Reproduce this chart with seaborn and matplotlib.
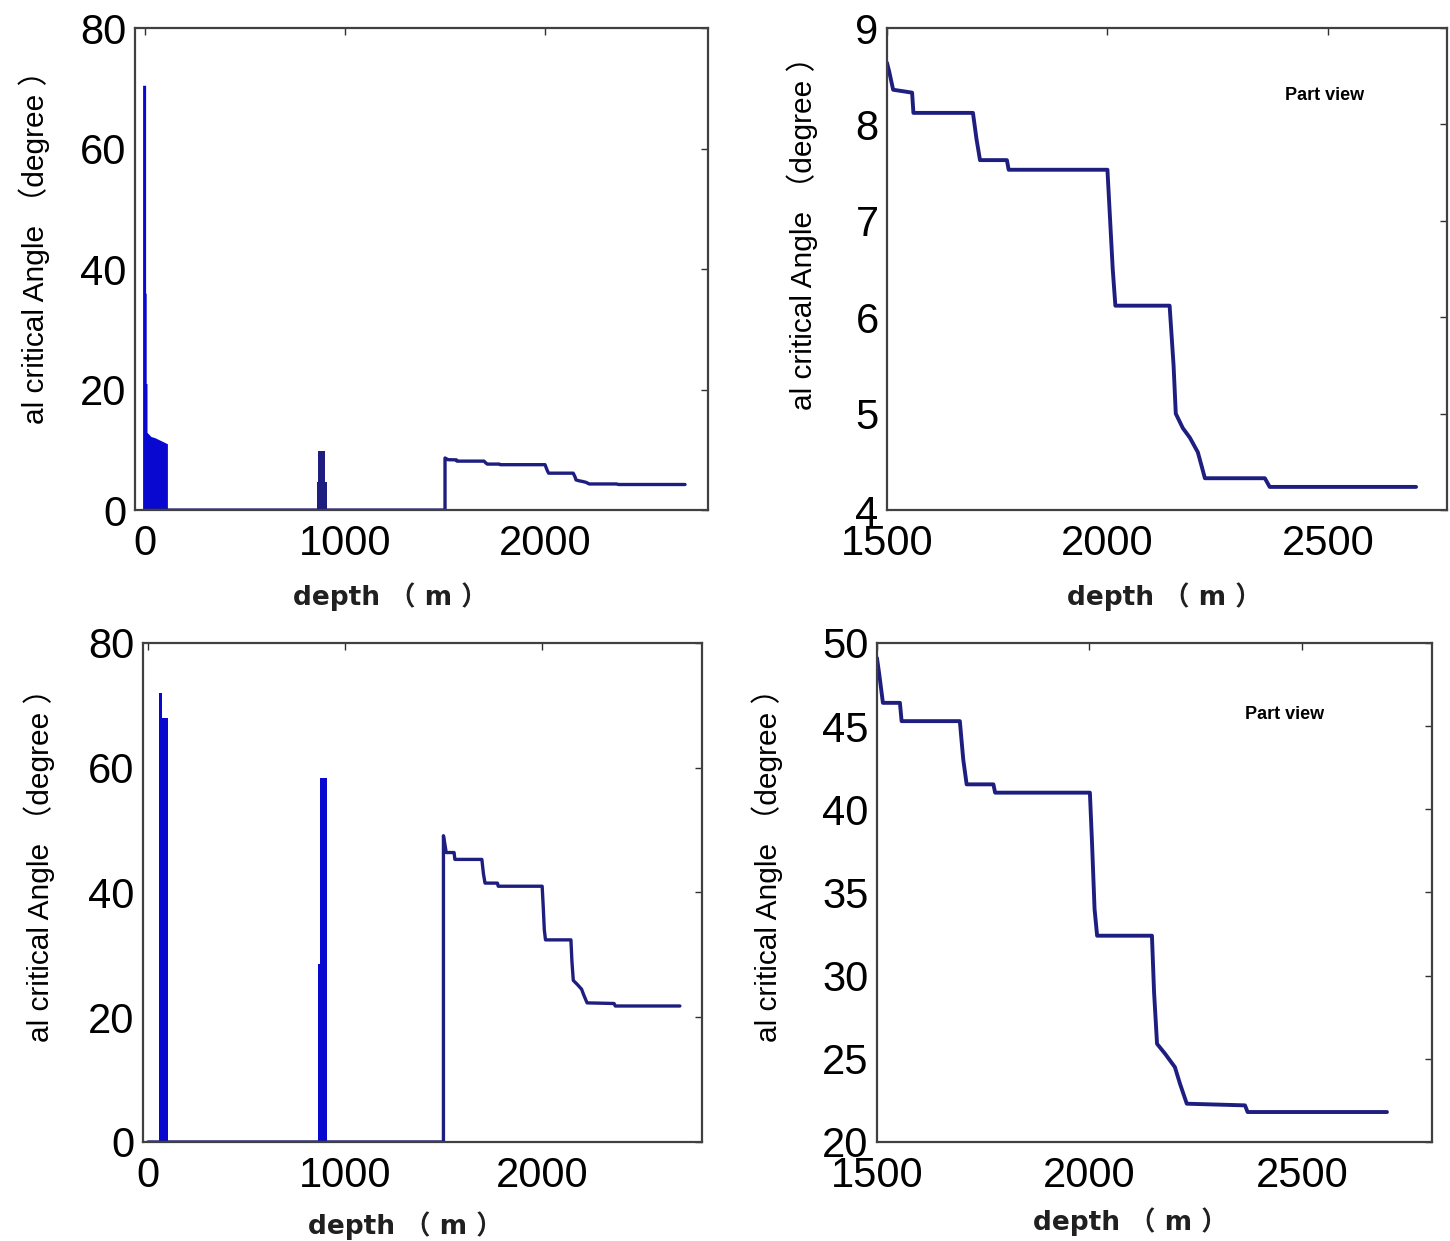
import matplotlib
matplotlib.use("Agg")
import matplotlib.pyplot as plt
import seaborn as sns

sns.set_style("white")
plt.rcParams['font.family'] = ['Liberation Sans', 'Noto Sans CJK SC', 'DejaVu Sans']

# stair part of the first angle curve (depth m, degree)
depth_a = [1500, 1505, 1514, 1557, 1560, 1695, 1703, 1711, 1772, 1776, 2000, 2005,
           2012, 2018, 2141, 2150, 2155, 2171, 2187, 2205, 2214, 2221, 2357, 2368, 2700]
angle_a = [8.64, 8.55, 8.36, 8.33, 8.12, 8.12, 7.85, 7.63, 7.63, 7.53, 7.53, 7.1,
           6.5, 6.12, 6.12, 5.5, 5.0, 4.85, 4.75, 4.6, 4.45, 4.33, 4.33, 4.24, 4.24]

# stair part of the second angle curve
depth_b = [1500, 1506, 1514, 1554, 1558, 1695, 1703, 1711, 1774, 1778, 2001, 2006,
           2012, 2018, 2147, 2152, 2159, 2178, 2201, 2213, 2229, 2366, 2372, 2700]
angle_b = [49.1, 48.0, 46.4, 46.4, 45.3, 45.3, 43.0, 41.5, 41.5, 41.0, 41.0, 38.0,
           34.0, 32.4, 32.4, 29.0, 25.9, 25.3, 24.5, 23.5, 22.3, 22.2, 21.8, 21.8]

# shallow part (zero until 1500 m)
shallow_depth = [0, 1500]
shallow_angle = [0, 0]

# dense spikes, drawn as filled envelopes
spike_a1_depth = [-12, 3, 3, 6, 6, 10, 10, 30, 50, 75, 100, 112]
spike_a1_top = [70.5, 70.5, 36, 36, 21, 21, 12.9, 12.2, 12.0, 11.6, 11.2, 11.0]
spike_a2_depth = [860, 865, 865, 900, 900, 910]
spike_a2_top = [4.6, 4.6, 9.8, 9.8, 4.6, 4.6]
spike_b1_depth = [56, 72, 72, 101]
spike_b1_top = [72, 72, 68, 68]
spike_b2_depth = [863, 872, 872, 909]
spike_b2_top = [28.5, 28.5, 58.3, 58.3]

line_col = '#1e1e80'
fill_col = '#0808d0'
ylab = 'al critical Angle （degree ）'
xlab = 'depth （ m ）'

fig = plt.figure(figsize=(14.5, 12.41), dpi=100)
ax_tl = fig.add_axes([0.0931, 0.5890, 0.3952, 0.3884])
ax_tr = fig.add_axes([0.6117, 0.5890, 0.3862, 0.3884])
ax_bl = fig.add_axes([0.0986, 0.0798, 0.3855, 0.4021])
ax_br = fig.add_axes([0.6048, 0.0798, 0.3828, 0.4021])

# full views
sns.lineplot(x=shallow_depth + depth_a, y=shallow_angle + angle_a, ax=ax_tl,
             sort=False, estimator=None, color=line_col, lw=2.4)
ax_tl.fill_between(spike_a1_depth, 0, spike_a1_top, color=fill_col, lw=0)
ax_tl.fill_between(spike_a2_depth, 0, spike_a2_top, color=line_col, lw=0)

sns.lineplot(x=shallow_depth + depth_b, y=shallow_angle + angle_b, ax=ax_bl,
             sort=False, estimator=None, color=line_col, lw=2.4)
ax_bl.fill_between(spike_b1_depth, 0, spike_b1_top, color=fill_col, lw=0)
ax_bl.fill_between(spike_b2_depth, 0, spike_b2_top, color=fill_col, lw=0)

# part views
sns.lineplot(x=depth_a, y=angle_a, ax=ax_tr, sort=False, estimator=None,
             color=line_col, lw=2.8)
sns.lineplot(x=depth_b, y=angle_b, ax=ax_br, sort=False, estimator=None,
             color=line_col, lw=2.8)

ax_tl.set_xlim(-50, 2815)
ax_tl.set_ylim(0, 80)
ax_tl.set_yticks([0, 20, 40, 60, 80])
ax_tl.set_xticks([0, 1000, 2000])

ax_bl.set_xlim(-25, 2812)
ax_bl.set_ylim(0, 80)
ax_bl.set_yticks([0, 20, 40, 60, 80])
ax_bl.set_xticks([0, 1000, 2000])

ax_tr.set_xlim(1500, 2770)
ax_tr.set_ylim(4, 9)
ax_tr.set_yticks([4, 5, 6, 7, 8, 9])
ax_tr.set_xticks([1500, 2000, 2500])

ax_br.set_xlim(1500, 2806)
ax_br.set_ylim(20, 50)
ax_br.set_yticks([20, 25, 30, 35, 40, 45, 50])
ax_br.set_xticks([1500, 2000, 2500])

ax_tr.text(2493, 8.3, 'Part view', fontsize=13, fontweight='bold', ha='center',
           va='center', color='black')
ax_br.text(2460, 45.7, 'Part view', fontsize=13, fontweight='bold', ha='center',
           va='center', color='black')

label_pos = {
    'tl': (ax_tl, (-0.148, 0.56), (0.445, -0.149)),
    'tr': (ax_tr, (-0.123, 0.59), (0.496, -0.149)),
    'bl': (ax_bl, (-0.157, 0.57), (0.469, -0.138)),
    'br': (ax_br, (-0.169, 0.57), (0.456, -0.130)),
}
for key, (ax, ypos, xpos) in label_pos.items():
    ax.set_ylabel(ylab, fontsize=21.5, color='black')
    ax.set_xlabel(xlab, fontsize=19, fontweight='bold', color='#202020',
                  family=['DejaVu Sans', 'Noto Sans CJK SC'])
    ax.yaxis.set_label_coords(*ypos)
    ax.xaxis.set_label_coords(*xpos)
    ax.tick_params(direction='in', top=True, right=True, length=5, width=1,
                   labelsize=30, color='#303030', labelcolor='black')
    ax.tick_params(axis='x', pad=10)
    ax.tick_params(axis='y', pad=6)
    for s in ax.spines.values():
        s.set_visible(True)
        s.set_color('#404040')
        s.set_linewidth(1.6)

fig.savefig('out.png', dpi=100)
